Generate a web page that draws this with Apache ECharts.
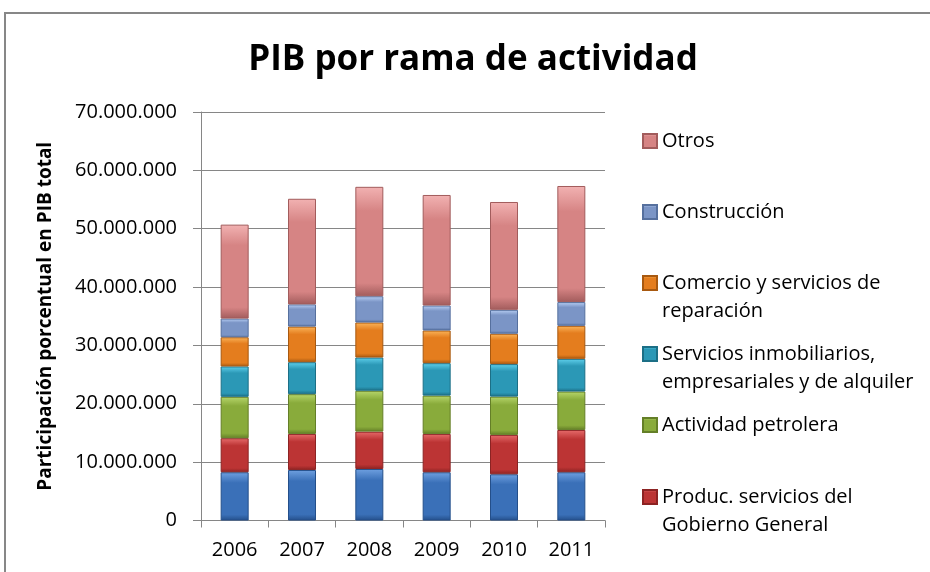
<!DOCTYPE html>
<html>
<head>
<meta charset="utf-8">
<script src="https://cdn.jsdelivr.net/npm/echarts@6/dist/echarts.min.js"></script>
<style>
  html, body { margin: 0; padding: 0; background: #fff; }
  #chart { width: 930px; height: 572px; }
</style>
</head>
<body>
<div id="chart"></div>
<script>
// Years on the category axis
const years = ['2006', '2007', '2008', '2009', '2010', '2011'];

// PIB components per year (stacked from bottom to top)
const industria   = [8270000, 8660000, 8830000, 8270000, 7920000, 8270000];
const gobierno    = [5830000, 6180000, 6400000, 6570000, 6750000, 7250000];
const petrolera   = [7100000, 6810000, 7000000, 6560000, 6560000, 6580000];
const inmobiliar  = [5200000, 5480000, 5700000, 5560000, 5570000, 5600000];
const comercio    = [5000000, 6100000, 6000000, 5600000, 5200000, 5660000];
const construccion= [3200000, 3800000, 4500000, 4280000, 4100000, 4070000];
const otros       = [16100000, 18100000, 18750000, 18940000, 18480000, 19890000];

// Value axis ticks
const yTicks = [0, 10000000, 20000000, 30000000, 40000000, 50000000, 60000000, 70000000];

const FONT = 'Open Sans';

// Series definitions: name, data, base colour, light and dark shades for the bevel look
const seriesDefs = [
  { name: 'Industria manufacturera', data: industria, base: '#3A70B8', light: '#6FA0E0', dark: '#244F8A' },
  { name: 'Produc. servicios del Gobierno General', data: gobierno, base: '#BC3434', light: '#E66B6B', dark: '#8C2323' },
  { name: 'Actividad petrolera', data: petrolera, base: '#89AB3B', light: '#B7D66B', dark: '#647F27' },
  { name: 'Servicios inmobiliarios, empresariales y de alquiler', data: inmobiliar, base: '#2B98B6', light: '#5FD0EC', dark: '#1C6F86' },
  { name: 'Comercio y servicios de reparación', data: comercio, base: '#E47D1E', light: '#FBB55A', dark: '#A85910' },
  { name: 'Construcción', data: construccion, base: '#7B95C6', light: '#B9D0F5', dark: '#56709E' },
  { name: 'Otros', data: otros, base: '#D68484', light: '#F2B2B2', dark: '#A25C5C' }
];

// Legend labels broken over two lines where needed
const legendText = {
  'Comercio y servicios de reparación': ['Comercio y servicios de', 'reparación'],
  'Servicios inmobiliarios, empresariales y de alquiler': ['Servicios inmobiliarios,', 'empresariales y de alquiler'],
  'Produc. servicios del Gobierno General': ['Produc. servicios del', 'Gobierno General']
};

// Vertical centre of the first line of each legend entry
const legendRows = [
  { name: 'Otros', y: 141 },
  { name: 'Construcción', y: 212 },
  { name: 'Comercio y servicios de reparación', y: 283 },
  { name: 'Servicios inmobiliarios, empresariales y de alquiler', y: 354 },
  { name: 'Actividad petrolera', y: 425 },
  { name: 'Produc. servicios del Gobierno General', y: 497 }
];

function fmtNum(v) {
  return String(v).replace(/\B(?=(\d{3})+(?!\d))/g, '.');
}

function bevel(d) {
  return {
    type: 'linear', x: 0, y: 0, x2: 0, y2: 1,
    colorStops: [
      { offset: 0, color: d.light },
      { offset: 0.22, color: d.base },
      { offset: 0.88, color: d.base },
      { offset: 1, color: d.dark }
    ]
  };
}

const LINE_H = 28;
// Two-line entries get a blank leading line so the marker sits beside the first line
const legends = legendRows.map(r => {
  const lines = legendText[r.name];
  return {
    data: [r.name],
    left: 642,
    top: lines ? r.y - LINE_H * 1.5 : r.y - LINE_H / 2,
    orient: 'vertical',
    itemWidth: 14,
    itemHeight: 14,
    icon: 'rect',
    selectedMode: false,
    padding: 0,
    formatter: n => legendText[n] ? ' \n' + legendText[n].join('\n') : n,
    textStyle: {
      fontFamily: FONT,
      fontSize: 20,
      color: '#000',
      lineHeight: LINE_H
    }
  };
});

const chart = echarts.init(document.getElementById('chart'), null, { renderer: 'canvas' });

chart.setOption({
  animation: false,
  backgroundColor: '#fff',
  title: {
    text: 'PIB por rama de actividad',
    left: 468,
    top: 38,
    textAlign: 'center',
    textStyle: { fontFamily: FONT, fontSize: 35, fontWeight: 'bold', color: '#000' }
  },
  graphic: [{
    type: 'rect',
    shape: { x: 5, y: 13, width: 960, height: 600 },
    style: { fill: 'none', stroke: '#878787', lineWidth: 2 },
    silent: true
  }],
  legend: legends,
  grid: { left: 201, top: 112, width: 404, height: 408.5, containLabel: false },
  xAxis: {
    type: 'category',
    data: years,
    axisLine: { lineStyle: { color: '#868686', width: 1 } },
    axisTick: { show: true, length: 7, lineStyle: { color: '#868686' } },
    axisLabel: { fontFamily: FONT, fontSize: 20, color: '#000', margin: 20 }
  },
  yAxis: {
    type: 'value',
    min: yTicks[0],
    max: yTicks[yTicks.length - 1],
    interval: yTicks[1] - yTicks[0],
    name: 'Participación porcentual en PIB total',
    nameLocation: 'middle',
    nameGap: 146,
    nameRotate: 90,
    nameTextStyle: { fontFamily: FONT, fontSize: 19, fontWeight: 'bold', color: '#000' },
    axisLine: { show: true, lineStyle: { color: '#868686', width: 1 } },
    axisTick: { show: true, length: 8, lineStyle: { color: '#868686' } },
    splitLine: { lineStyle: { color: '#868686', width: 1 } },
    axisLabel: { fontFamily: FONT, fontSize: 20, color: '#000', margin: 24, formatter: fmtNum }
  },
  series: seriesDefs.map(d => ({
    name: d.name,
    type: 'bar',
    stack: 'pib',
    barWidth: 28,
    data: d.data,
    itemStyle: { color: bevel(d), borderColor: d.dark, borderWidth: 1 },
    emphasis: { disabled: true }
  }))
});
</script>
</body>
</html>
